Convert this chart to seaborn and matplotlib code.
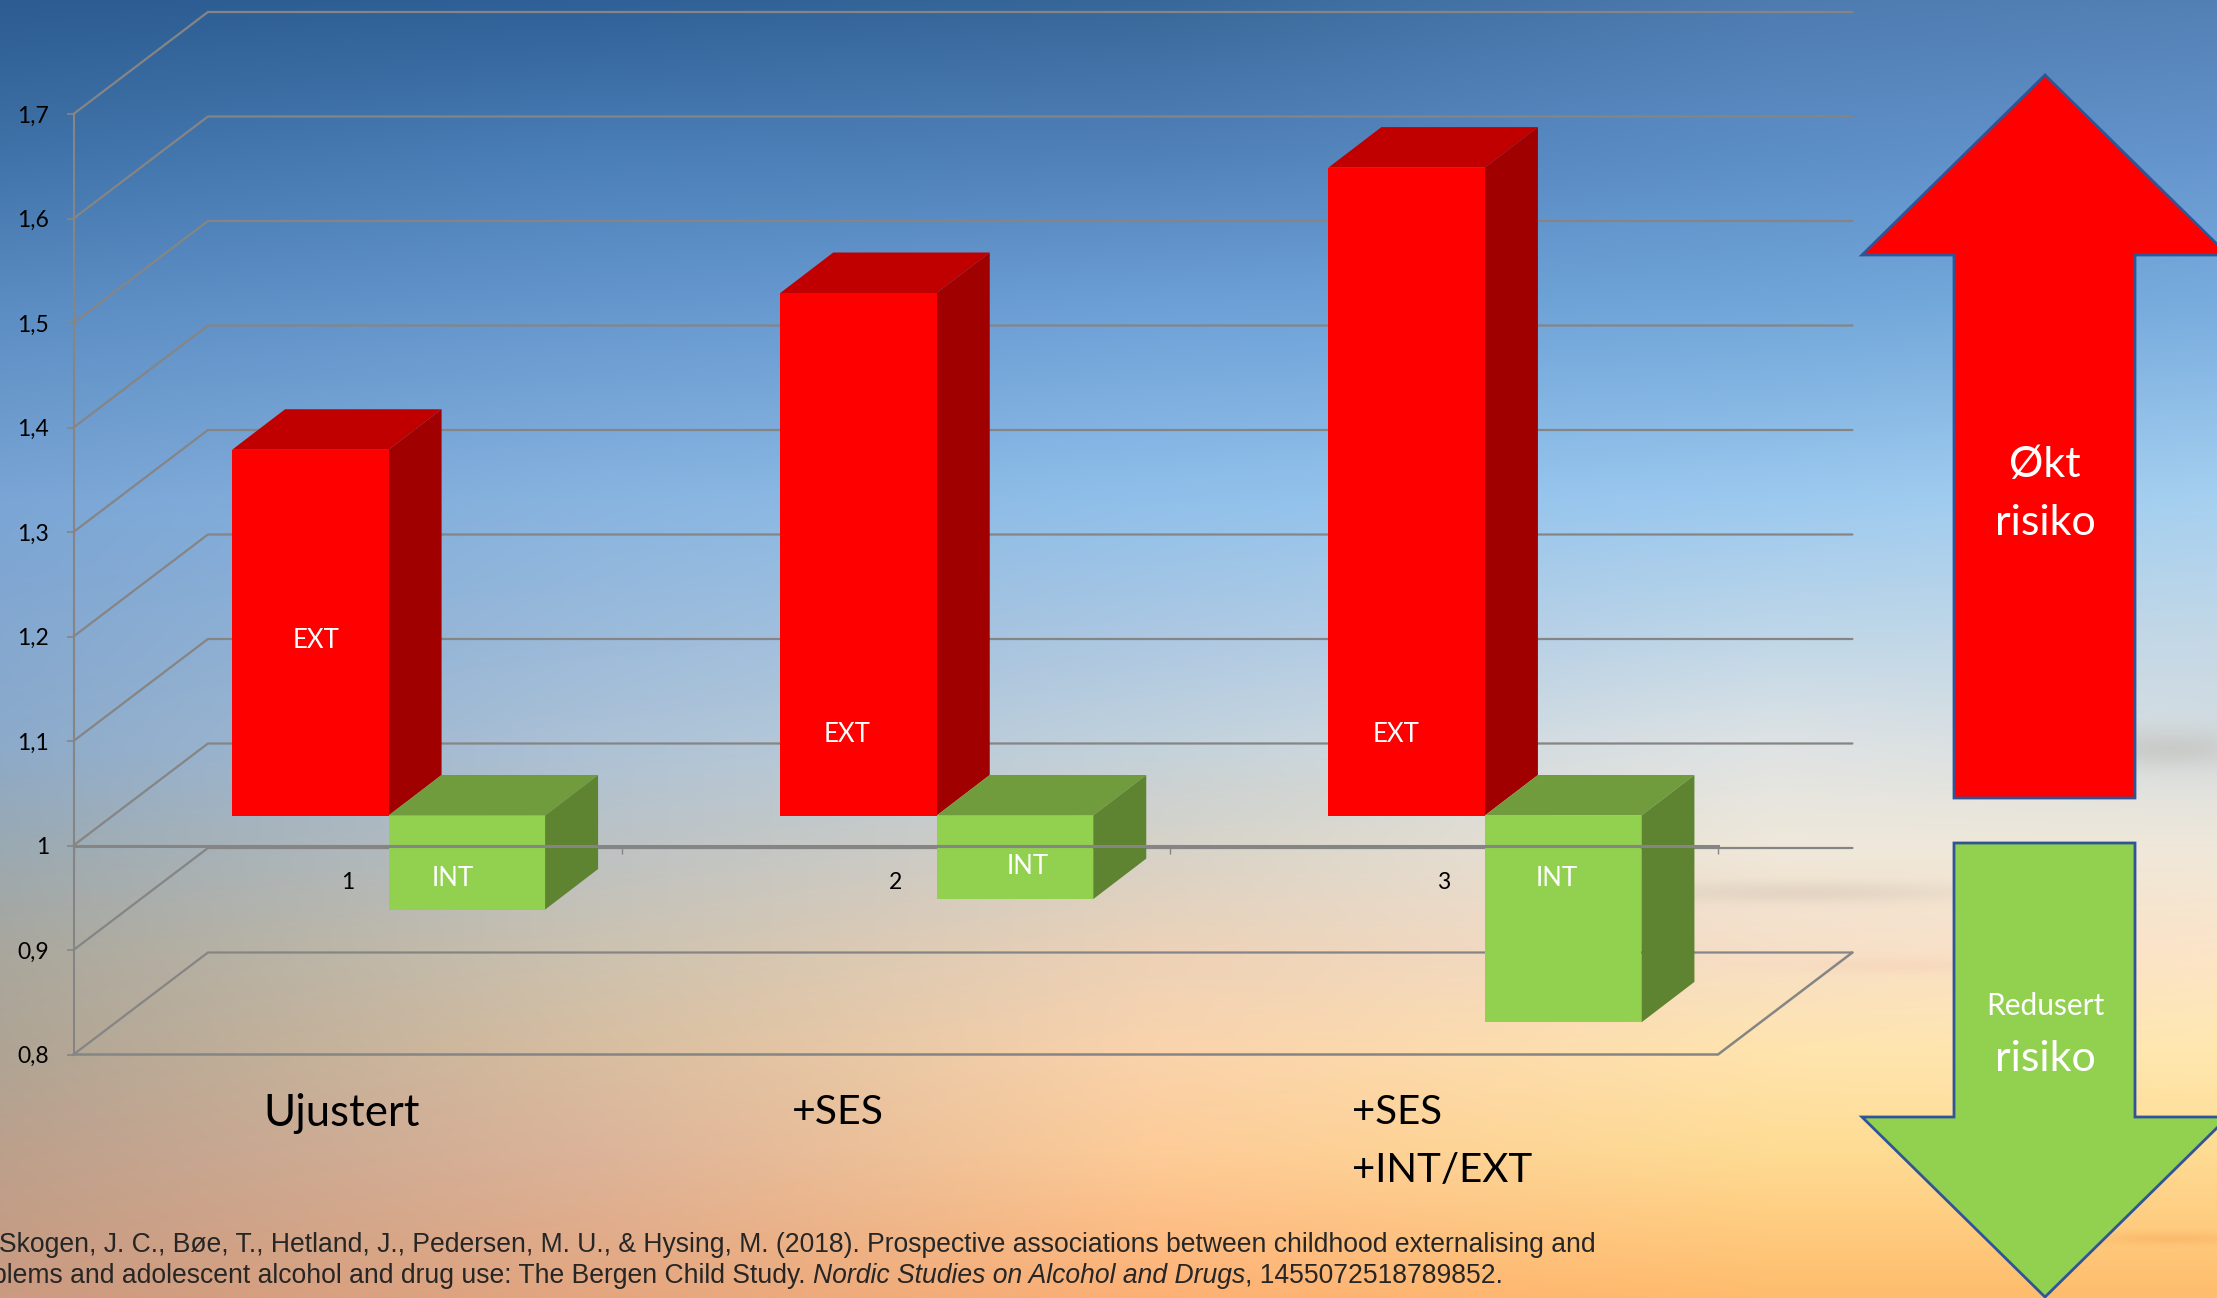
import numpy as np
import pandas as pd
import matplotlib
matplotlib.use("Agg")
import matplotlib.pyplot as plt
from matplotlib.patches import Polygon
from matplotlib.transforms import Affine2D, IdentityTransform
from matplotlib.colors import to_rgb
import seaborn as sns

# ---- data ----
categories = ["1", "2", "3"]
ext_values = [1.35, 1.50, 1.62]
int_values = [0.91, 0.92, 0.802]
y_ticks = [0.8, 0.9, 1.0, 1.1, 1.2, 1.3, 1.4, 1.5, 1.6, 1.7]
y_tick_labels = ["0,8", "0,9", "1", "1,1", "1,2", "1,3", "1,4", "1,5", "1,6", "1,7"]
group_labels = ["Ujustert", "+SES", "+SES\n+INT/EXT"]
baseline = 1.0

W, H = 2217, 1298
sns.set_theme(style="white")
plt.rcParams["font.family"] = ["Lato", "DejaVu Sans"]
fig = plt.figure(figsize=(W / 100, H / 100), dpi=100)

# ---- sunset background ----
stops_y = [0, 150, 300, 500, 640, 745, 845, 950, 1050, 1150, 1298]
stops_x = [0, 0.27, 0.52, 0.80, 1.0]
columns = [
    ["#2c5c90", "#3f72a8", "#5a8cc2", "#7aa5d5", "#85a8cf", "#8caaca", "#9aa9b2", "#a9a79d", "#afa494", "#bca08c", "#cb9a80"],
    ["#2f6097", "#4a7eb6", "#6496cd", "#88b4e0", "#9cbbda", "#adc2d6", "#bcc2c4", "#ccc2b0", "#d8bea0", "#dcb49a", "#e4a67f"],
    ["#386899", "#5080b8", "#6c9fd6", "#90c0ea", "#adc8e2", "#c2d2dc", "#d6d2c8", "#ecd2b8", "#fad3ac", "#fdcc98", "#fdb074"],
    ["#4e7bb0", "#5c8ec6", "#6fa5d8", "#9cc9ef", "#c0d7e8", "#dfe3e4", "#efe8da", "#f6dfc8", "#ffe4ae", "#fedc94", "#ffbc6c"],
    ["#5380b4", "#6494cc", "#78acde", "#a6d0f0", "#c4d8e6", "#d6dde0", "#efe8da", "#fce4c8", "#ffe8b0", "#fedc94", "#ffbc6c"],
]
cols = [np.array([to_rgb(c) for c in s]) for s in columns]
yy = np.arange(H)
xx = np.arange(W) / (W - 1)
img = np.zeros((H, W, 3))
for k in range(3):
    rows = np.stack([np.interp(yy, stops_y, c[:, k]) for c in cols], axis=1)
    for r in range(H):
        img[r, :, k] = np.interp(xx, stops_x, rows[r])
clouds = [(1800, 892, 170, 11, "#d8c8b8", 0.55), (2170, 748, 90, 20, "#c4c4c0", 0.7),
          (1900, 965, 120, 8, "#f5d2b8", 0.5), (2170, 1238, 70, 6, "#f8ac5c", 0.5),
          (1250, 790, 200, 30, "#d2cfc6", 0.2)]
gx, gy = np.meshgrid(np.arange(W), yy)
for cx, cy, sx, sy, col, a in clouds:
    mask = a * np.exp(-((gx - cx) / sx) ** 2 - ((gy - cy) / sy) ** 2)
    img = img * (1 - mask[..., None]) + np.array(to_rgb(col)) * mask[..., None]

bg = fig.add_axes([0, 0, 1, 1], zorder=-1)
bg.imshow(img, aspect="auto", extent=(0, W, H, 0))
bg.set_axis_off()

# ---- main axes ----
L, R, Y_BOT, Y_TOP = 73.5, 1718.0, 1054.5, 114.0
ax = fig.add_axes([L / W, 1 - Y_BOT / H, (R - L) / W, (Y_BOT - Y_TOP) / H], zorder=1)
ax.patch.set_alpha(0)

df = pd.DataFrame({
    "gruppe": categories * 2,
    "serie": ["EXT"] * 3 + ["INT"] * 3,
    "verdi": ext_values + int_values,
})
front = {"EXT": "#ff0000", "INT": "#92d050"}
top_c = {"EXT": "#c00000", "INT": "#709c3e"}
side_c = {"EXT": "#a00000", "INT": "#5e8431"}
sns.barplot(data=df, x="gruppe", y="verdi", hue="serie", hue_order=["EXT", "INT"], palette=front,
            width=0.571, saturation=1, legend=False, ax=ax, errorbar=None, linewidth=0)
ax.set_xlim(-0.5, 2.5)
ax.set_ylim(0.8, 1.7)
ax.set_xlabel("")
ax.set_ylabel("")

GRID = "#858585"
ax.set_yticks(y_ticks)
ax.set_yticklabels(y_tick_labels, fontsize=16.5, color="black")
ax.tick_params(axis="y", length=5.4, width=1.2, color=GRID, pad=12, left=True)
ax.set_xticks([0, 1, 2])
ax.set_xticklabels(categories)
ax.set_xticks([-0.5, 0.5, 1.5, 2.5], minor=True)
ax.tick_params(axis="x", which="major", length=0, pad=19, bottom=True, labelsize=16.5, labelcolor="black")
ax.tick_params(axis="x", which="minor", length=6, width=1.0, color=GRID, bottom=True)
for s in ("top", "right"):
    ax.spines[s].set_visible(False)
ax.spines["left"].set_color(GRID)
ax.spines["left"].set_linewidth(1.5)
ax.spines["left"].set_zorder(1)
ax.spines["bottom"].set_position(("data", baseline))
ax.spines["bottom"].set_color(GRID)
ax.spines["bottom"].set_linewidth(2.2)
ax.spines["bottom"].set_zorder(8)

# wall depth and bar depth, in pixels
WALL_DX, WALL_DY = 134.4, 102.0
SHIFT_DX, SHIFT_DY = 41.0, 30.0
BAR_DX, BAR_DY = 53.0, 40.5


def P(x, v, dx=0.0, dy=0.0):
    px = ax.transData.transform((x, v))
    return (px[0] + dx, px[1] + dy)


def shape(points, color, z):
    ax.add_patch(Polygon(points, closed=True, facecolor=color, edgecolor="none",
                         transform=IdentityTransform(), clip_on=False, zorder=z))


def seg(points, lw=1.6, z=1):
    xs, ys = zip(*points)
    ax.plot(xs, ys, color=GRID, lw=lw, transform=IdentityTransform(), clip_on=False, zorder=z,
            solid_joinstyle="miter", scalex=False, scaley=False)


x0, x1 = ax.get_xlim()
for v in y_ticks:
    seg([P(x0, v), P(x0, v, WALL_DX, WALL_DY), P(x1, v, WALL_DX, WALL_DY)])
floor = y_ticks[0]
seg([P(x0, floor), P(x1, floor), P(x1, floor, WALL_DX, WALL_DY)], lw=1.8)

# turn the flat bars into boxes around the baseline
offset = ax.transData + Affine2D().translate(SHIFT_DX, SHIFT_DY)
for cont, serie in zip(ax.containers, ["EXT", "INT"]):
    base_z = 3 if serie == "EXT" else 5
    for rect in cont:
        xa, w, v = rect.get_x(), rect.get_width(), rect.get_height()
        xb = xa + w
        rect.set_y(baseline)
        rect.set_height(v - baseline)
        rect.set_transform(offset)
        rect.set_clip_on(False)
        rect.set_zorder(base_z + 1)
        hi, lo = max(v, baseline), min(v, baseline)
        sx, sy = SHIFT_DX, SHIFT_DY
        shape([P(xa, hi, sx, sy), P(xb, hi, sx, sy),
               P(xb, hi, sx + BAR_DX, sy + BAR_DY), P(xa, hi, sx + BAR_DX, sy + BAR_DY)],
              top_c[serie], base_z)
        shape([P(xb, hi, sx, sy), P(xb, lo, sx, sy),
               P(xb, lo, sx + BAR_DX, sy + BAR_DY), P(xb, hi, sx + BAR_DX, sy + BAR_DY)],
              side_c[serie], base_z)

# ---- overlay in image pixels: arrows and free text ----
ov = fig.add_axes([0, 0, 1, 1], zorder=5)
ov.set_xlim(0, W)
ov.set_ylim(H, 0)
ov.set_axis_off()
ov.patch.set_alpha(0)

EDGE = "#2f5597"
ov.add_patch(Polygon([(2045, 75), (2228, 255), (2135, 255), (2135, 798), (1954, 798), (1954, 255), (1862, 255)],
                     closed=True, facecolor="#ff0000", edgecolor=EDGE, lw=2.0, joinstyle="miter"))
ov.add_patch(Polygon([(1954, 843), (2135, 843), (2135, 1117), (2228, 1117), (2045, 1297), (1862, 1117), (1954, 1117)],
                     closed=True, facecolor="#92d050", edgecolor=EDGE, lw=2.0, joinstyle="miter"))
arrow_text = [("Økt", 465, 31), ("risiko", 523, 31), ("Redusert", 1006, 21.5), ("risiko", 1059, 31)]
for txt, y, fs in arrow_text:
    ov.text(2045, y, txt, color="white", fontsize=fs, ha="center", va="center")

bar_text = [("EXT", 316, 640), ("EXT", 847, 735), ("EXT", 1396, 735),
            ("INT", 453, 879), ("INT", 1028, 867), ("INT", 1557, 879)]
for txt, x, y in bar_text:
    ov.text(x, y, txt, color="white", fontsize=18.5, ha="center", va="center")

ov.text(263, 1113, group_labels[0], color="black", fontsize=31.5, ha="left", va="center")
ov.text(792, 1113, group_labels[1], color="black", fontsize=29.5, ha="left", va="center")
for line, y in zip(group_labels[2].split("\n"), (1113, 1171)):
    ov.text(1352, y, line, color="black", fontsize=29, ha="left", va="center")

# citation, right-aligned per line like the clipped centred original
CIT = "#262626"
cfs = 19.1
cit = dict(color=CIT, fontsize=cfs, family="Liberation Sans", va="center", ha="right")
ov.text(1596, 1245, "Skogen, J. C., Bøe, T., Hetland, J., Pedersen, M. U., & Hysing, M. (2018). "
        "Prospective associations between childhood externalising and", **cit)
renderer = fig.canvas.get_renderer()
xr = 1503
for part, style in ((", 1455072518789852.", "normal"), ("Nordic Studies on Alcohol and Drugs", "italic"),
                    ("problems and adolescent alcohol and drug use: The Bergen Child Study. ", "normal")):
    t = ov.text(xr, 1276, part, style=style, **cit)
    xr -= t.get_window_extent(renderer).width

fig.savefig("out.png", dpi=100)
